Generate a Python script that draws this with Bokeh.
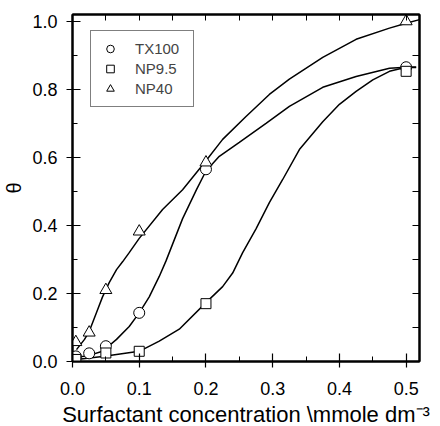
from bokeh.plotting import figure
from bokeh.models import (Range1d, LinearAxis, Legend, LegendItem, FixedTicker,
                          CustomLabelingPolicy)
from bokeh.embed import file_html
from bokeh.resources import INLINE

# measured points
tx_x = [0.005, 0.025, 0.05, 0.1, 0.2, 0.5]
tx_y = [0.015, 0.024, 0.045, 0.143, 0.565, 0.865]
np95_x = [0.005, 0.05, 0.1, 0.2, 0.5]
np95_y = [0.006, 0.025, 0.03, 0.17, 0.853]
np40_x = [0.005, 0.025, 0.05, 0.1, 0.2, 0.5]
np40_y = [0.057, 0.085, 0.21, 0.382, 0.585, 1.0]

# fitted curves
tx_cx = [0.006, 0.025, 0.045, 0.066, 0.085, 0.1, 0.115, 0.13, 0.14, 0.15, 0.165, 0.186,
         0.2, 0.22, 0.25, 0.29, 0.325, 0.375, 0.425, 0.475, 0.5, 0.515]
tx_cy = [0.012, 0.018, 0.03, 0.065, 0.103, 0.143, 0.19, 0.25, 0.295, 0.345, 0.42, 0.506,
         0.56, 0.603, 0.644, 0.70, 0.75, 0.806, 0.838, 0.862, 0.865, 0.864]
np95_cx = [0.006, 0.045, 0.1, 0.13, 0.16, 0.2, 0.225, 0.24, 0.255, 0.275, 0.295, 0.315,
           0.34, 0.375, 0.4, 0.425, 0.45, 0.475, 0.5, 0.515]
np95_cy = [0.006, 0.015, 0.03, 0.06, 0.095, 0.173, 0.22, 0.26, 0.32, 0.39, 0.467, 0.535,
           0.623, 0.705, 0.756, 0.794, 0.828, 0.853, 0.865, 0.866]
np40_cx = [0.006, 0.018, 0.025, 0.036, 0.045, 0.055, 0.066, 0.075, 0.085, 0.1, 0.135, 0.165,
           0.198, 0.225, 0.26, 0.295, 0.325, 0.375, 0.425, 0.475, 0.5, 0.52]
np40_cy = [0.035, 0.065, 0.088, 0.144, 0.19, 0.232, 0.27, 0.293, 0.32, 0.362, 0.447, 0.505,
           0.585, 0.653, 0.72, 0.785, 0.83, 0.894, 0.947, 0.98, 0.994, 1.005]

x_ticks = [0.0, 0.1, 0.2, 0.3, 0.4, 0.5]
x_labels = ["0.0", "0.1", "0.2", "0.3", "0.4", "0.5"]
y_ticks = [0.0, 0.2, 0.4, 0.6, 0.8, 1.0]
y_labels = ["0.0", "0.2", "0.4", "0.6", "0.8", "1.0"]

FONT = "Liberation Sans"

p = figure(frame_width=347, frame_height=347,
           x_range=Range1d(0, 0.52), y_range=Range1d(0, 1.02),
           output_backend="svg", toolbar_location=None,
           min_border_left=67, min_border_top=14, min_border_right=10, min_border_bottom=58)
p.xgrid.visible = False
p.ygrid.visible = False
p.background_fill_color = "white"
p.border_fill_color = "white"
p.outline_line_color = "black"
p.outline_line_width = 2

for ax in (p.xaxis[0], p.yaxis[0]):
    ax.axis_line_width = 2
    ax.axis_line_color = "black"
    ax.major_tick_line_width = 1.2
    ax.minor_tick_line_width = 1
    ax.major_tick_in = 8
    ax.major_tick_out = 6
    ax.minor_tick_in = 5
    ax.minor_tick_out = 0
    ax.major_label_text_font = FONT
    ax.major_label_text_font_size = "18px"
    ax.major_label_text_color = "black"
    ax.axis_label_text_font = FONT
    ax.axis_label_text_font_style = "normal"
    ax.axis_label_text_color = "black"

p.xaxis.ticker = FixedTicker(ticks=x_ticks, minor_ticks=[0.05, 0.15, 0.25, 0.35, 0.45])
p.xaxis.major_label_overrides = dict(zip(x_ticks, x_labels))
p.xaxis.major_label_standoff = 14
p.xaxis.axis_label = "Surfactant concentration \\mmole dm\u207b\u00b3"
p.xaxis.axis_label_text_font_size = "22px"
p.xaxis.axis_label_standoff = 4

p.yaxis.ticker = FixedTicker(ticks=y_ticks, minor_ticks=[0.1, 0.3, 0.5, 0.7, 0.9])
p.yaxis.major_label_overrides = dict(zip(y_ticks, y_labels))
p.yaxis.major_label_standoff = 9
p.yaxis.axis_label = "\u03b8"
p.yaxis.axis_label_text_font_size = "20px"
p.yaxis.axis_label_standoff = 4

hide_all = "for (const i of indices) indices.unset(i)"
top = LinearAxis(ticker=FixedTicker(ticks=[0.05, 0.1, 0.15, 0.2, 0.25, 0.3, 0.35, 0.4, 0.45, 0.5]),
                 major_tick_in=6, major_tick_out=0,
                 major_label_policy=CustomLabelingPolicy(code=hide_all),
                 major_label_standoff=0, axis_line_color="black", axis_line_width=2,
                 minor_tick_line_color=None)
right = LinearAxis(ticker=FixedTicker(ticks=[0.1, 0.2, 0.3, 0.4, 0.5, 0.6, 0.7, 0.8, 0.9]),
                   major_tick_in=7, major_tick_out=0,
                   major_label_policy=CustomLabelingPolicy(code=hide_all),
                   major_label_standoff=0, axis_line_color="black", axis_line_width=2,
                   minor_tick_line_color=None)
p.add_layout(top, "above")
p.add_layout(right, "right")

lw = 1.5
p.line(np40_cx, np40_cy, line_color="black", line_width=lw)
p.line(tx_cx, tx_cy, line_color="black", line_width=lw)
p.line(np95_cx, np95_cy, line_color="black", line_width=lw)

r_tx = p.scatter(tx_x, tx_y, marker="circle", size=11, fill_color="white",
                 line_color="black", line_width=1)
r_np95 = p.scatter(np95_x, np95_y, marker="square", size=10, fill_color="white",
                   line_color="black", line_width=1)
r_np40 = p.scatter(np40_x, np40_y, marker="triangle", size=12, fill_color="white",
                   line_color="black", line_width=1)

legend = Legend(items=[LegendItem(label="TX100", renderers=[r_tx]),
                       LegendItem(label="NP9.5", renderers=[r_np95]),
                       LegendItem(label="NP40", renderers=[r_np40])],
                location=(18, 254), padding=8, spacing=1,
                glyph_width=22, glyph_height=19, label_height=19, label_width=50,
                label_standoff=14, label_text_font=FONT, label_text_font_size="15px",
                border_line_color="black", border_line_width=1.5,
                background_fill_color="white", background_fill_alpha=1.0,
                margin=0)
p.add_layout(legend, "center")

open("out.html", "w").write(file_html(p, INLINE))
